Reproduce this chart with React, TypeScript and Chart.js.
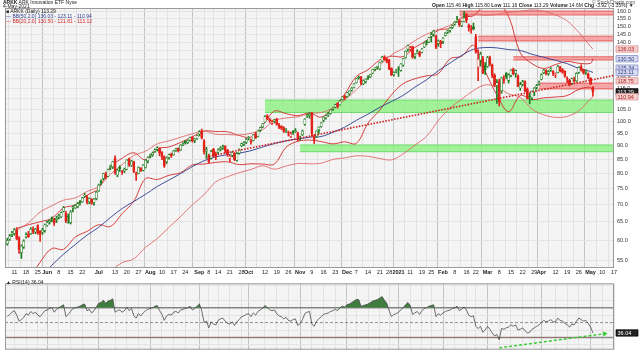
import React, { useEffect, useRef } from 'react';
import { Chart, registerables } from 'chart.js';
Chart.register(...registerables);

// ---------- date axis (trading-day index) ----------
const tickIdx = [3,8,13,17,22,27,32,39,46,51,56,61,66,71,76,82,86,90,95,100,103,110,115,120,125,130,135,140,145,149,154,159,163,167,172,177,181,186,191,196,200,205,210,215,220,225,228,234,239,244,249,254,259];
const tickLabels = ['11','18','25','Jun','8','15','22','Jul','13','20','27','Aug','10','17','24','Sep','8','14','21','28','Oct','12','19','26','Nov','9','16','23','Dec','7','14','21','28','2021','11','19','25','Feb','8','16','22','Mar','8','15','22','29','Apr','12','19','26','May','10','17'];
const monthLabels = ['Jun','Jul','Aug','Sep','Oct','Nov','Dec','2021','Feb','Mar','Apr','May'];

// ---------- daily candles, 6-May-2020 .. 4-May-2021 ----------
const opens = [59.2,60.4,61.6,61.8,62.8,60.6,57.0,58.4,61.0,61.6,61.8,63.0,62.2,64.0,62.4,62.2,62.6,
64.0,65.0,65.8,65.8,65.6,66.4,66.4,68.0,67.4,66.6,64.8,69.0,69.0,69.4,70.8,70.8,72.6,72.4,70.8,71.6,70.6,71.8,
74.2,77.4,78.2,79.6,79.0,82.0,82.2,85.4,79.4,82.2,80.6,80.8,81.4,85.2,82.8,84.0,79.8,80.0,81.8,81.0,82.0,84.4,
86.0,86.6,87.8,88.6,89.0,87.4,85.8,84.0,85.6,86.8,86.6,88.4,89.0,88.4,90.4,91.8,91.2,92.2,93.4,92.0,92.8,
94.6,95.8,91.8,88.0,86.2,85.4,88.6,86.8,87.6,88.6,89.2,89.8,88.4,85.2,86.4,87.2,84.6,87.2,90.0,90.6,91.4,
93.0,91.8,92.0,94.6,93.6,96.2,97.6,99.6,102.2,100.6,99.0,100.2,100.8,98.4,97.8,97.2,96.0,95.2,93.6,95.8,95.6,95.0,
93.0,94.4,98.6,102.2,102.4,103.4,93.6,93.6,96.4,97.8,100.4,101.4,102.6,103.4,105.2,106.2,107.8,107.2,109.6,111.2,
111.0,112.4,114.0,115.4,117.8,120.4,120.6,117.2,118.4,120.6,120.8,122.8,124.8,125.8,125.0,129.2,131.6,130.2,129.8,125.2,122.0,123.6,
124.8,124.2,127.0,131.2,136.0,136.2,137.4,132.0,133.8,134.0,134.2,137.2,140.4,140.2,143.6,145.0,143.8,139.4,140.4,
140.6,144.2,146.2,147.4,149.2,151.4,153.0,153.6,150.4,153.0,157.6,150.6,148.0,149.6,143.4,126.0,129.8,130.6,126.8,
126.4,131.2,127.2,121.6,116.4,118.4,113.8,119.8,122.8,119.0,121.6,124.8,122.6,121.2,115.2,117.0,118.4,114.6,111.4,110.4,113.2,115.4,117.2,
119.6,123.0,124.0,122.6,124.4,123.8,121.8,123.0,126.0,124.6,123.6,120.2,119.0,117.4,119.4,118.8,123.2,126.0,124.6,123.2,122.4,
120.0,115.46];
const highs = [60.6,61.6,62.4,63.2,63.4,61.0,58.9,60.2,62.0,62.4,63.4,63.6,63.2,64.2,62.6,63.2,64.4,
65.2,65.6,66.4,66.0,66.6,67.2,67.8,69.4,68.0,67.2,68.2,69.6,70.0,70.6,71.2,72.2,73.4,72.8,72.0,71.8,71.8,74.0,
76.4,77.8,80.0,80.4,81.4,82.8,84.2,86.2,81.4,82.6,81.0,81.8,84.8,85.4,84.6,84.2,80.4,82.2,82.0,83.0,84.8,85.8,
86.8,87.6,88.8,89.6,89.2,87.8,86.2,85.8,86.8,87.2,88.2,89.0,89.2,90.4,91.2,92.0,92.2,93.4,93.6,92.8,94.2,
96.0,96.6,92.4,89.4,86.8,88.2,89.0,87.6,88.8,89.6,90.2,90.0,88.6,86.4,87.8,87.4,87.4,88.8,91.0,91.6,92.8,
93.6,92.6,94.4,95.4,96.0,97.4,99.0,102.4,102.8,101.2,100.4,100.8,101.2,99.0,98.0,97.6,96.8,95.8,95.4,96.0,96.8,95.4,
93.8,96.2,101.0,103.0,103.6,103.8,94.4,96.0,97.6,99.4,101.8,102.6,103.6,105.0,105.8,107.4,108.0,109.2,111.0,111.8,
113.0,113.8,115.4,117.4,120.0,121.2,121.0,119.2,119.8,121.4,122.2,124.8,125.6,126.4,128.6,131.8,132.2,130.8,130.2,125.6,123.4,124.6,
126.2,127.8,130.6,135.0,138.4,137.6,137.8,133.4,135.6,134.8,136.4,139.8,141.2,143.0,146.0,147.4,144.4,141.4,141.2,
142.8,146.0,147.4,149.2,150.8,153.0,156.4,154.0,153.2,159.6,158.6,151.4,150.4,152.0,144.8,135.6,134.2,131.8,128.4,
131.8,132.0,127.6,122.4,119.4,119.6,120.6,121.4,123.0,122.4,124.6,125.4,124.4,121.8,118.0,119.0,118.8,115.2,112.6,113.8,115.4,117.0,118.6,
122.4,124.8,124.6,124.2,125.6,124.0,122.8,126.8,126.4,125.2,124.0,120.8,119.6,120.2,120.6,123.0,126.0,127.2,124.8,124.4,122.8,
120.4,115.80];
const lows = [58.8,60.0,61.0,61.4,60.2,56.8,55.6,58.0,60.6,60.8,61.6,61.8,61.8,61.6,59.8,61.6,62.2,
63.8,64.4,65.0,64.0,64.8,65.8,66.2,67.8,64.8,64.6,64.4,67.8,68.8,69.0,69.8,70.6,72.2,70.2,70.2,70.0,69.8,71.4,
74.0,76.2,77.8,78.2,78.8,81.2,81.6,79.6,78.8,80.6,79.6,80.2,81.2,82.4,82.4,80.2,77.6,79.8,80.6,80.8,81.8,83.6,
85.4,86.0,87.4,88.0,86.2,84.8,82.0,83.4,85.0,85.6,86.4,87.8,87.6,88.2,90.0,90.6,90.8,91.8,91.4,91.2,92.4,
93.8,92.6,86.8,85.2,83.6,85.0,85.8,84.8,87.0,88.0,88.6,87.2,86.0,84.0,85.8,84.4,84.2,86.8,89.6,90.0,90.8,
92.2,90.6,91.8,92.8,93.4,95.6,97.2,99.4,100.6,99.4,98.6,99.2,98.2,96.8,96.4,95.2,95.2,93.8,93.2,94.4,95.2,91.8,
92.0,94.0,98.2,101.6,101.2,93.6,90.8,93.2,94.8,97.4,99.6,100.8,102.0,103.0,104.6,105.8,105.6,107.0,109.4,109.6,
110.6,111.6,113.6,115.2,117.6,119.6,116.8,116.8,117.6,119.4,120.4,122.4,124.0,124.8,124.4,128.8,129.6,128.2,124.6,121.4,121.2,122.8,
121.0,123.8,126.4,130.8,134.6,134.8,130.8,130.6,133.4,131.6,133.8,136.8,138.4,139.8,140.2,143.6,136.2,137.6,136.8,
139.2,143.8,145.4,146.2,148.4,150.6,152.4,149.8,149.6,152.8,152.2,146.8,145.6,147.6,133.6,118.8,126.4,122.4,122.0,
125.8,126.6,120.4,115.8,107.8,106.6,112.6,117.4,119.8,117.6,120.8,121.8,120.6,115.8,114.0,116.2,113.2,109.8,107.6,109.4,111.4,114.6,116.6,
119.2,122.4,121.8,121.6,123.6,121.4,120.4,122.8,123.4,122.6,120.6,117.8,116.2,116.8,118.2,118.4,122.6,123.8,122.2,122.0,119.8,
116.8,111.16];
const closes = [60.0,61.2,62.0,62.8,60.5,57.8,58.6,59.8,61.5,61.0,63.0,62.2,63.0,62.0,61.6,62.8,64.2,
64.8,65.4,65.8,64.6,66.0,66.8,67.6,69.0,65.2,66.4,67.8,69.2,69.6,70.2,70.6,72.0,72.8,70.8,71.8,70.4,71.6,73.8,
76.0,76.8,79.8,78.6,81.2,82.4,84.0,80.2,81.0,81.6,80.4,81.4,84.6,82.8,84.2,80.6,79.4,82.0,80.8,82.8,84.6,85.6,
86.4,87.2,88.4,89.2,87.2,85.6,82.6,85.4,86.6,86.2,88.0,88.8,88.0,90.2,90.8,91.2,92.0,93.2,91.8,92.6,94.0,
95.4,93.0,87.6,88.4,84.0,87.8,86.2,85.8,88.4,89.0,89.6,88.0,86.6,86.0,87.4,84.8,87.0,88.6,90.8,91.2,92.4,
93.2,91.4,94.2,93.0,95.8,97.2,98.8,102.0,101.0,100.2,99.6,100.4,98.6,97.4,97.0,95.8,96.6,95.0,94.6,95.2,96.0,92.4,
93.2,95.8,100.8,102.6,103.0,94.8,92.0,95.8,97.4,99.2,101.6,102.4,103.2,104.8,105.6,107.2,106.4,109.0,110.8,110.4,
112.8,113.6,115.0,117.2,119.8,120.4,117.6,118.8,119.6,120.2,122.0,124.6,125.4,126.2,128.4,131.4,130.0,128.6,125.0,121.8,123.0,124.0,
124.8,127.6,130.4,134.8,138.0,136.6,131.4,133.0,134.6,132.4,136.0,139.6,140.0,142.8,144.6,146.8,137.0,140.6,139.2,
142.4,145.6,147.0,148.8,150.4,152.6,154.0,151.0,152.8,155.4,153.8,149.0,147.6,148.4,134.2,130.2,133.0,122.8,124.6,
131.0,127.4,121.2,116.6,117.8,108.6,120.2,119.0,121.0,121.8,124.2,122.4,124.0,116.0,116.8,118.2,113.6,110.2,110.8,113.6,115.0,116.4,118.0,
121.8,124.2,122.4,123.6,124.8,122.6,122.0,126.2,124.0,123.2,121.0,119.6,116.8,119.8,118.6,122.6,125.6,124.4,123.0,123.6,120.4,
117.2,113.29];

// ---------- Bollinger band overlays, sampled at the end of each trading week ----------
const bandIdx = [4,9,14,19,24,29,34,39,44,49,54,59,64,69,74,79,84,89,94,99,104,109,114,119,124,129,134,139,144,149,154,159,164,169,174,179,184,189,194,199,204,209,214,219,224,229,234,239,244,249,250];
const bb20Upper = [63.2,64.2,65.0,66.0,69.0,69.9,72.8,75.0,82.0,85.3,87.3,84.7,88.8,89.5,91.3,93.5,95.8,95.6,95.5,94.0,93.3,98.1,104.3,103.2,102.3,103.5,101.7,105.8,112.1,121.0,124.5,129.8,131.9,131.7,137.0,141.1,147.4,148.7,155.9,156.8,164.6,165.6,156.4,133.8,127.8,125.2,127.3,129.0,128.0,128.0,130.5];
const bb20Lower = [47.4,50.8,54.7,58.0,57.8,60.9,62.4,64.2,63.7,67.3,71.0,78.2,77.9,79.3,80.2,82.9,83.2,83.8,84.0,83.0,83.3,83.2,83.2,89.4,91.7,92.2,91.6,90.7,91.5,90.9,99.1,104.8,111.9,117.3,119.8,121.3,122.4,130.5,131.9,138.2,123.7,111.8,104.0,111.5,109.6,110.4,110.8,111.5,114.5,115.5,113.1];
const bb50Mid = [48.5,49.5,51.3,54.0,56.6,59.0,61.4,63.5,66.2,68.8,70.9,73.1,75.6,77.7,79.9,82.3,84.4,85.8,86.6,87.2,88.1,89.5,90.8,91.9,92.6,93.3,93.6,95.3,97.4,100.3,103.0,106.0,108.7,111.6,115.6,119.3,124.0,128.1,132.4,135.9,136.9,136.7,135.7,135.2,133.0,131.3,129.6,127.8,125.2,123.6,123.1];
const bb50Upper = [62.7,64.7,67.8,69.6,71.3,72.0,74.0,75.6,79.6,83.0,86.3,87.9,90.7,91.9,93.3,94.7,95.8,94.5,94.4,94.2,94.9,96.4,100.2,101.3,101.8,103.3,103.7,105.7,109.4,114.4,120.0,126.8,132.7,136.3,141.0,144.9,147.8,150.5,155.0,157.9,157.1,157.7,159.1,159.8,160.8,159.9,157.4,153.4,146.0,137.5,136.0];
const bb50Lower = [34.3,34.3,34.8,38.4,41.9,46.0,48.8,51.4,52.8,54.6,55.5,58.3,60.5,63.5,66.5,69.9,73.0,77.1,78.8,80.2,81.3,82.6,81.4,82.5,83.4,83.3,83.5,84.9,85.4,86.2,86.0,85.2,84.7,86.9,90.2,93.7,100.2,105.7,109.8,113.9,116.7,115.7,112.3,110.6,105.2,102.7,101.6,102.0,104.5,110.0,110.9];

// ---------- support / resistance zones ----------
const zoneStart = [193,201,216,227,110,125];
const zoneLow = [157.3,140.8,129.8,114.7,103.7,87.7];
const zoneHigh = [160.0,143.7,131.6,117.6,109.4,90.3];
const zoneKind = ['r','r','r','r','g','g'];

// ---------- trend line (start, end) ----------
const trendIdx = [86, 259];
const trendVal = [86.0, 121.5];

// ---------- axis value tags ----------
const tagValues = [136.03, 130.50, 125.34, 123.11, 118.75, 113.29, 110.94];
const tagKind = ['r','b','b','b','r','k','r'];

// ---------- RSI(14) daily ----------
const rsi = [58,61,64,66,60,52,54,57,62,60,65,62,64,60,58,62,66,
67,69,70,64,68,70,72,74,58,61,65,69,70,71,72,74,75,66,68,63,66,71,
76,77,80,76,79,80,82,64,66,67,64,66,71,66,69,59,56,62,59,63,66,68,
69,70,72,73,66,61,53,59,61,60,64,65,63,67,68,69,70,72,67,69,72,
75,66,50,52,43,51,48,47,53,55,56,52,49,48,51,46,51,54,58,59,61,
62,58,63,60,65,67,69,73,70,67,66,67,62,59,58,55,57,53,52,54,55,46,
49,54,62,64,65,48,45,52,55,58,61,62,63,65,66,68,66,70,72,71,
74,75,77,79,81,81,72,73,74,75,77,79,80,81,83,85,80,76,66,58,61,62,
64,67,70,74,77,73,61,63,65,61,66,69,70,72,73,74,58,62,60,
63,65,66,67,69,70,72,66,68,71,67,60,58,59,45,42,45,37,40,
45,41,36,32,34,27,42,41,43,44,47,45,47,40,41,43,39,36,37,41,43,45,47,
50,53,51,52,54,51,51,56,53,52,49,47,44,48,47,52,56,54,52,53,49,44,36.04];
const rsiLevels = [70, 50, 30];
const arrowIdx = [210, 255];
const arrowVal = [16, 35];

const UP = '#1e7b1e';
const DOWN = '#e3231c';
const BLUE = '#2e3d8f';
const RED = '#d42a2a';
const PINK = '#e06a6a';
const FONT = "'Liberation Sans', Arial, sans-serif";

const X_MIN = -1;
const X_MAX = 259;

function xTicks(scale: any) {
  scale.ticks = tickIdx.map((v) => ({ value: v }));
}

const bgPlugin = {
  id: 'plotBg',
  beforeDraw(chart: any) {
    const { ctx, chartArea: a } = chart;
    ctx.save();
    ctx.fillStyle = '#f4f4f4';
    ctx.fillRect(a.left, a.top, a.right - a.left, a.bottom - a.top);
    ctx.restore();
  },
  afterDraw(chart: any) {
    const { ctx, chartArea: a } = chart;
    ctx.save();
    ctx.strokeStyle = '#9a9a9a';
    ctx.lineWidth = 1;
    ctx.strokeRect(a.left + 0.5, a.top + 0.5, a.right - a.left - 1, a.bottom - a.top - 1);
    ctx.restore();
  },
};

function tagPlugin(values: number[], kinds: string[], scaleId: string) {
  return {
    id: 'tags_' + scaleId,
    afterDraw(chart: any) {
      const { ctx, chartArea: a } = chart;
      const ys = chart.scales[scaleId];
      ctx.save();
      ctx.font = `5.5px ${FONT}`;
      ctx.textBaseline = 'middle';
      values.forEach((v, i) => {
        const y = ys.getPixelForValue(v);
        const k = kinds[i];
        const bg = k === 'k' ? '#222' : k === 'b' ? '#d9dcf0' : '#f4d2d2';
        const fg = k === 'k' ? '#fff' : k === 'b' ? '#2b3a80' : '#b02020';
        const bd = k === 'k' ? '#000' : k === 'b' ? '#7b86c4' : '#d98a8a';
        ctx.fillStyle = bg;
        ctx.strokeStyle = bd;
        ctx.lineWidth = 0.7;
        ctx.beginPath();
        ctx.rect(a.right + 2, y - 3.2, 22, 6.4);
        ctx.fill();
        ctx.stroke();
        ctx.fillStyle = fg;
        ctx.fillText(v.toFixed(2), a.right + 3.5, y + 0.3);
      });
      ctx.restore();
    },
  };
}

export default function App() {
  const mainRef = useRef<HTMLCanvasElement>(null);
  const rsiRef = useRef<HTMLCanvasElement>(null);

  useEffect(() => {
    document.body.style.margin = '0';
    const bodyData = closes.map((c, i) => ({ x: i, y: [opens[i], Math.abs(c - opens[i]) < 0.15 ? opens[i] + 0.15 : c] }));
    const wickData = closes.map((c, i) => ({ x: i, y: [lows[i], highs[i]] }));
    const candleColor = closes.map((c, i) => (i === 0 ? (c >= opens[i] ? UP : DOWN) : c >= closes[i - 1] ? UP : DOWN));
    const bodyFill = closes.map((c, i) => (c > opens[i] ? '#ffffff' : candleColor[i]));

    const line = (vals: number[], color: string, width: number) => ({
      type: 'line' as const,
      data: vals.map((v, i) => ({ x: bandIdx[i], y: v })),
      borderColor: color,
      borderWidth: width,
      pointRadius: 0,
      tension: 0.35,
      order: 5,
    });

    const zoneSets: any[] = [];
    zoneStart.forEach((s, i) => {
      const red = zoneKind[i] === 'r';
      const edge = red ? 'rgba(225,60,60,0.9)' : 'rgba(80,210,80,0.9)';
      const fill = red ? 'rgba(245,140,140,0.75)' : 'rgba(140,240,130,0.8)';
      zoneSets.push({
        type: 'line',
        data: [{ x: s, y: zoneHigh[i] }, { x: X_MAX, y: zoneHigh[i] }],
        borderColor: edge, borderWidth: 0.8, pointRadius: 0, order: 20,
      });
      zoneSets.push({
        type: 'line',
        data: [{ x: s, y: zoneLow[i] }, { x: X_MAX, y: zoneLow[i] }],
        borderColor: edge, borderWidth: 0.8, pointRadius: 0, order: 20,
        fill: '-1', backgroundColor: fill,
      });
    });

    const main = new Chart(mainRef.current!, {
      type: 'bar',
      data: {
        datasets: [
          ...zoneSets,
          line(bb50Upper, PINK, 0.9),
          line(bb50Mid, BLUE, 0.9),
          line(bb50Lower, PINK, 0.9),
          line(bb20Upper, RED, 0.9),
          line(bb20Lower, RED, 0.9),
          {
            type: 'line',
            data: [{ x: trendIdx[0], y: trendVal[0] }, { x: trendIdx[1], y: trendVal[1] }],
            borderColor: '#cc1a1a', borderWidth: 1.6, borderDash: [1.5, 1.5], pointRadius: 0, order: 0,
          },
          {
            type: 'bar',
            data: wickData,
            backgroundColor: candleColor,
            barThickness: 1,
            grouped: false,
            order: 2,
          },
          {
            type: 'bar',
            data: bodyData,
            backgroundColor: bodyFill,
            borderColor: candleColor,
            borderWidth: 0.6,
            borderSkipped: false,
            barThickness: 2.2,
            grouped: false,
            order: 1,
          },
        ] as any,
      },
      options: {
        animation: false,
        responsive: true,
        maintainAspectRatio: false,
        layout: { padding: { top: 8, left: 5, right: 0, bottom: 0 } },
        plugins: { legend: { display: false }, tooltip: { enabled: false } },
        scales: {
          x: {
            type: 'linear',
            min: X_MIN,
            max: X_MAX,
            offset: false,
            afterBuildTicks: xTicks,
            afterFit: (s: any) => { s.height = 9; },
            ticks: {
              autoSkip: false,
              maxRotation: 0,
              padding: 1,
              color: '#222',
              font: (c: any) => ({ family: FONT, size: 5.5, weight: monthLabels.includes(tickLabels[c.index]) ? 'bold' : 'normal' }),
              callback: (_v: any, i: number) => tickLabels[i],
            },
            grid: {
              drawTicks: false,
              color: (c: any) => (monthLabels.includes(tickLabels[c.index]) ? '#c4c4c4' : '#e2e2e2'),
              lineWidth: 1,
            },
            border: { display: false },
          },
          y: {
            type: 'logarithmic',
            position: 'right',
            min: 53.36,
            max: 162.1,
            afterBuildTicks: (s: any) => {
              const t = [];
              for (let v = 55; v <= 160.01; v += 2.5) t.push({ value: v });
              s.ticks = t;
            },
            afterFit: (s: any) => { s.width = 26; },
            ticks: {
              padding: 3,
              color: '#333',
              font: { family: FONT, size: 5.5 },
              callback: (v: any) => Number(v).toFixed(1),
            },
            grid: { drawTicks: false, color: '#e4e4e4', lineWidth: 1 },
            border: { display: false },
          },
        },
      },
      plugins: [bgPlugin, tagPlugin(tagValues, tagKind, 'y')],
    } as any);

    const rsiSet = rsi.map((v, i) => ({ x: i, y: v }));
    const rsiChart = new Chart(rsiRef.current!, {
      type: 'line',
      data: {
        datasets: [
          {
            data: rsiSet,
            borderColor: '#4a4a4a',
            borderWidth: 0.8,
            pointRadius: 0,
            fill: { target: { value: 70 }, above: '#3f7d3f', below: 'rgba(0,0,0,0)' },
            order: 1,
          },
          {
            data: rsiSet,
            borderWidth: 0,
            pointRadius: 0,
            fill: { target: { value: 30 }, above: 'rgba(0,0,0,0)', below: '#c83a2a' },
            order: 2,
          },
          ...rsiLevels.map((lv) => ({
            data: [{ x: X_MIN, y: lv }, { x: X_MAX, y: lv }],
            borderColor: lv === 50 ? '#777' : '#8a8a8a',
            borderWidth: lv === 50 ? 0.8 : 1.6,
            borderDash: lv === 50 ? [3, 2] : [],
            pointRadius: 0,
            order: 3,
          })),
          {
            data: [{ x: arrowIdx[0], y: arrowVal[0] }, { x: arrowIdx[1], y: arrowVal[1] }],
            borderColor: '#2ecc2e',
            borderWidth: 1.4,
            borderDash: [3, 2],
            pointRadius: [0, 3],
            pointStyle: 'triangle',
            rotation: 80,
            pointBackgroundColor: '#2ecc2e',
            pointBorderWidth: 0,
            order: 0,
            clip: false,
          },
        ] as any,
      },
      options: {
        animation: false,
        responsive: true,
        maintainAspectRatio: false,
        layout: { padding: { top: 1, left: 5, right: 0, bottom: 2 } },
        plugins: { legend: { display: false }, tooltip: { enabled: false } },
        scales: {
          x: {
            type: 'linear',
            min: X_MIN,
            max: X_MAX,
            afterBuildTicks: xTicks,
            afterFit: (s: any) => { s.height = 0; },
            ticks: { display: false },
            grid: {
              drawTicks: false,
              color: (c: any) => (monthLabels.includes(tickLabels[c.index]) ? '#c4c4c4' : '#e2e2e2'),
            },
            border: { display: false },
          },
          y: {
            type: 'linear',
            position: 'right',
            min: 13.5,
            max: 102.9,
            afterBuildTicks: (s: any) => { s.ticks = [20, 30, 40, 50, 60, 70, 80, 90, 100].map((v) => ({ value: v })); },
            afterFit: (s: any) => { s.width = 26; },
            ticks: {
              padding: 3,
              color: '#333',
              font: { family: FONT, size: 5.5 },
              callback: (v: any) => ([30, 50, 70, 90].includes(Number(v)) ? String(v) : ''),
            },
            grid: { drawTicks: false, color: '#e4e4e4' },
            border: { display: false },
          },
        },
      },
      plugins: [bgPlugin, tagPlugin([rsi[rsi.length - 1]], ['k'], 'y')],
    } as any);

    return () => {
      main.destroy();
      rsiChart.destroy();
    };
  }, []);

  const t = (s: React.CSSProperties): React.CSSProperties => ({ position: 'absolute', whiteSpace: 'nowrap', fontSize: 5, lineHeight: '5px', fontFamily: FONT, color: '#222', ...s });

  return (
    <div style={{ position: 'fixed', left: 0, top: 0, width: 640, height: 356, background: '#fff', overflow: 'hidden' }}>
      <div style={{ position: 'absolute', left: 0, top: 0, width: 640, height: 277 }}>
        <canvas ref={mainRef} />
      </div>
      <div style={{ position: 'absolute', left: 0, top: 277, width: 640, height: 79 }}>
        <canvas ref={rsiRef} />
      </div>
      <div style={t({ left: 3, top: 0 })}><b>ARKK</b> ARK Innovation ETF Nyse</div>
      <div style={t({ left: 3, top: 4 })}>4-May-2021</div>
      <div style={t({ left: 6, top: 9 })}>■ ARKK (Daily) 113.29</div>
      <div style={t({ left: 6, top: 14, color: BLUE })}>— BB(50,2.0) 136.03 - 123.11 - 110.94</div>
      <div style={t({ left: 6, top: 19, color: RED })}>— BB(20,2.0) 130.50 - 121.81 - 113.12</div>
      <div style={t({ left: 592, top: 0, color: '#555' })}>© StockCharts.com</div>
      <div style={t({ left: 432, top: 3 })}>
        <b>Open</b> 115.46 <b>High</b> 115.80 <b>Low</b> 111.16 <b>Close</b> 113.29 <b>Volume</b> 14.6M <b>Chg</b> -3.92 (-3.35%) ▼
      </div>
      <div style={t({ left: 6, top: 280 })}>▲ RSI(14) 36.04</div>
    </div>
  );
}
